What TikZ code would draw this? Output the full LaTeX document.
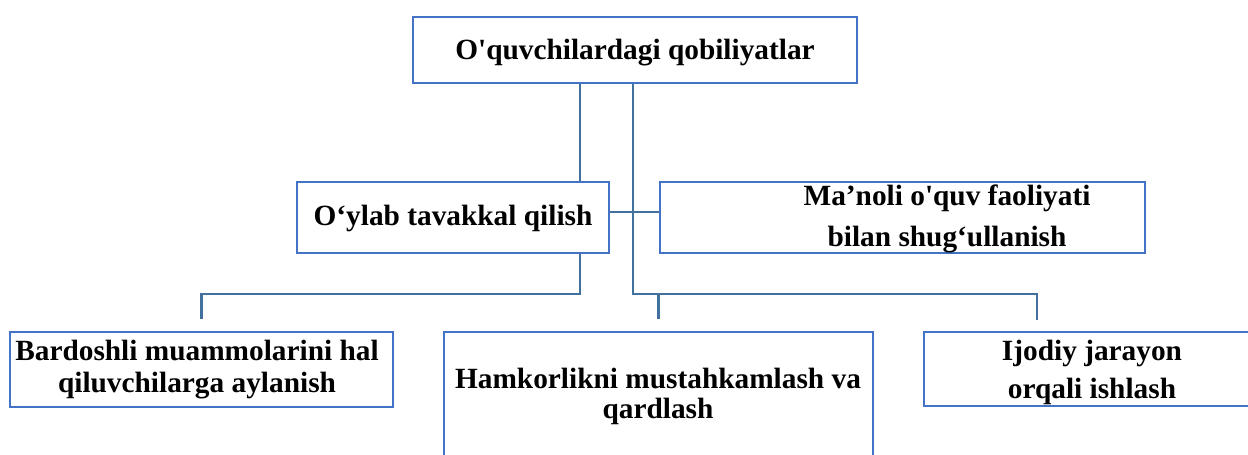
\documentclass[tikz,border=0pt]{standalone}
\usepackage{fontspec}
\setmainfont{Liberation Serif}
\usetikzlibrary{positioning}
\definecolor{boxblue}{RGB}{68,114,196}
\definecolor{lineblue}{RGB}{65,113,156}
\begin{document}
\begin{tikzpicture}[x=0.75pt,y=-0.75pt,
		box/.style={draw=boxblue, line width=2pt, rectangle, inner sep=0pt},
		label/.style={align=center, inner sep=0pt, font=\fontsize{22}{#1}\selectfont\bfseries},
		link/.style={draw=lineblue, line width=1.8pt}]
		\useasboundingbox (0,0) rectangle (1248,454);
		\clip (0,0) rectangle (1248,454);
		% boxes
		\node [box, minimum width=333pt, minimum height=49.5pt] (top) at (635,50) {};
		\node [box, minimum width=234pt, minimum height=53.25pt] (tavakkal) at (453,217.5) {};
		\node [box, minimum width=363.75pt, minimum height=53.25pt] (manoli) at (902.5,217.5) {};
		\node [box, minimum width=287.25pt, minimum height=56.25pt] (bardosh) at (201.5,369.5) {};
		\node [box, minimum width=321.75pt, minimum height=103.5pt] (hamkor) at (658.5,401) {};
		\node [box, minimum width=259.5pt, minimum height=55.5pt] (ijod) at (1097,369) {};
		% texts
		\node [label=26pt] (toptext) at (635,53) {O\textquotesingle quvchilardagi qobiliyatlar};
		\node [label=26pt] (tavakkaltext) at (453,218) {O‘ylab tavakkal qilish};
		\node [label=30.75pt] (manolitext) at (947,219) {Ma’noli o\textquotesingle quv faoliyati\\bilan shug‘ullanish};
		\node [label=24pt] (bardoshtext) at (197,370) {Bardoshli muammolarini hal\\qiluvchilarga aylanish};
		\node [label=22.5pt] (hamkortext) at (658,396) {Hamkorlikni mustahkamlash va\\qardlash};
		\node [label=28.5pt] (ijodtext) at (1092,372) {Ijodiy jarayon\\orqali ishlash};
		% joints
		\coordinate (jl) at (580,294);
		\coordinate (jr) at (633,294);
		\coordinate (ijstub) at (1037,320);
		% connectors
		\draw [link] (top.south -| jl) -- (tavakkal.north -| jl);
		\draw [link] (tavakkal.south -| jl) -- (jl) -| ([yshift=9pt]bardosh.north);
		\draw [link] (top.south -| jr) -- (jr) -| (ijstub);
		\draw [link] (jr -| hamkor.north) -- ([yshift=9pt]hamkor.north);
		\draw [link] ([yshift=4pt]tavakkal.east) -- ([yshift=4pt]manoli.west);
\end{tikzpicture}
\end{document}
